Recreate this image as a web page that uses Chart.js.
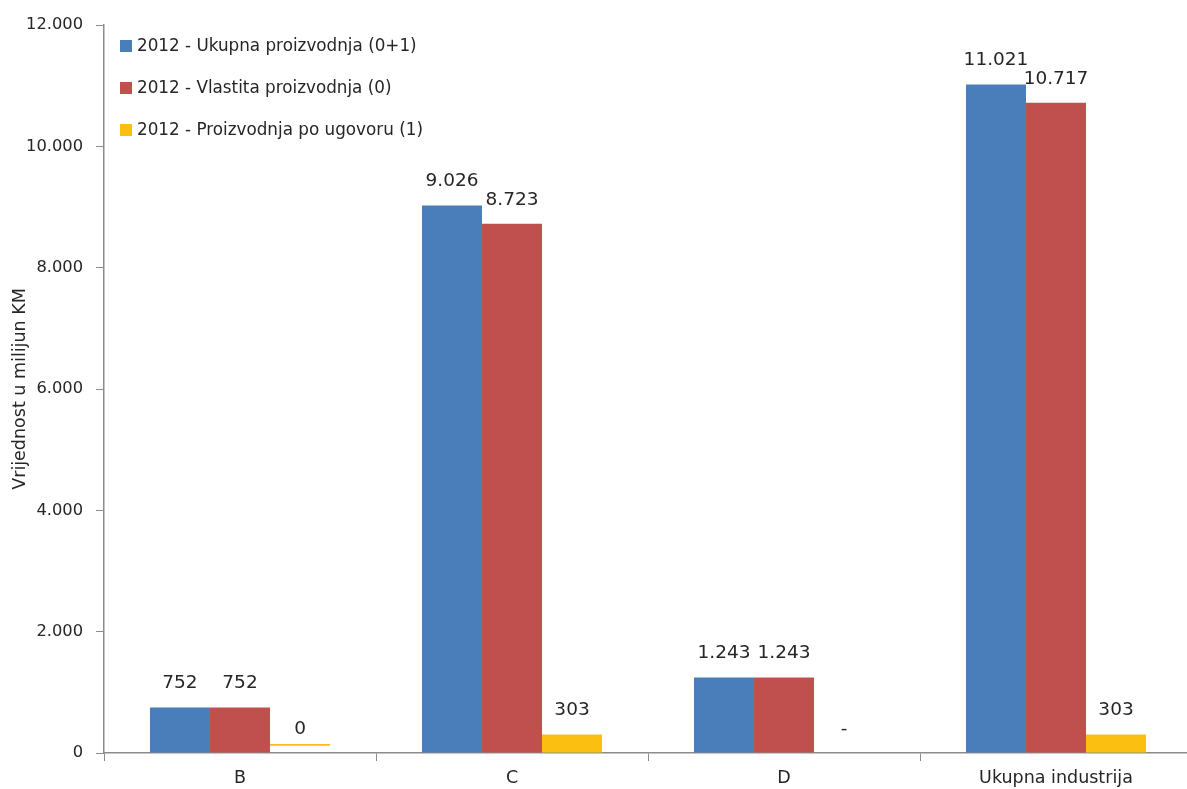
<!DOCTYPE html>
<html>
<head>
<meta charset="utf-8">
<script src="https://cdn.jsdelivr.net/npm/chart.js@4"></script>
<style>
  html, body { margin: 0; padding: 0; background: #fff; overflow: hidden; }
  #wrap { position: relative; width: 1195px; height: 789px; }
  #legend { position: absolute; left: 120px; top: 34px; font-family: "DejaVu Sans", sans-serif; font-size: 16.8px; color: #262626; }
  #legend div { height: 42px; line-height: 22px; white-space: nowrap; }
  #legend span.box { display: inline-block; width: 12px; height: 12px; margin-right: 5px; vertical-align: -1px; }
</style>
</head>
<body>
<div id="wrap">
  <canvas id="c" width="1195" height="789"></canvas>
  <div id="legend"></div>
</div>
<script>
const categories = ['B', 'C', 'D', 'Ukupna industrija'];
const seriesNames = ['2012 - Ukupna proizvodnja (0+1)', '2012 - Vlastita proizvodnja (0)', '2012 - Proizvodnja po ugovoru (1)'];
const ukupna = [752, 9026, 1243, 11021];
const vlastita = [752, 8723, 1243, 10717];
const ugovor = [0, 303, null, 303];
// Excel crta nulu kao tanku liniju iznad osi
const ugovorNulaCrta = [120, 150];
const yTicks = [0, 2000, 4000, 6000, 8000, 10000, 12000];
const colors = ['#4a7ebb', '#c0504d', '#fbbf11'];

function fmt(v) {
  return String(v).replace(/\B(?=(\d{3})+(?!\d))/g, '.');
}

const labelValues = [ukupna, vlastita, ugovor];

const valueLabels = {
  id: 'valueLabels',
  afterDatasetsDraw(chart) {
    const ctx = chart.ctx;
    const y = chart.scales.y;
    ctx.save();
    ctx.font = '18.5px "DejaVu Sans"';
    ctx.fillStyle = '#262626';
    ctx.textAlign = 'center';
    ctx.textBaseline = 'middle';
    chart.data.datasets.forEach((ds, di) => {
      const meta = chart.getDatasetMeta(di);
      meta.data.forEach((bar, i) => {
        const v = labelValues[di][i];
        const txt = v == null ? '-' : fmt(v);
        ctx.fillText(txt, bar.x, y.getPixelForValue(v || 0) - 24);
      });
    });
    ctx.restore();
  }
};

const chart = new Chart(document.getElementById('c'), {
  type: 'bar',
  data: {
    labels: categories,
    datasets: [
      { label: seriesNames[0], data: ukupna, backgroundColor: colors[0] },
      { label: seriesNames[1], data: vlastita, backgroundColor: colors[1] },
      { label: seriesNames[2], data: ugovor.map((v, i) => (v === 0 ? ugovorNulaCrta : v)), backgroundColor: colors[2] }
    ]
  },
  options: {
    responsive: false,
    animation: false,
    layout: { padding: { top: 25, right: 3, left: 0, bottom: 0 } },
    datasets: { bar: { barPercentage: 1, categoryPercentage: 0.662, borderWidth: 0 } },
    plugins: { legend: { display: false }, tooltip: { enabled: false } },
    scales: {
      x: {
        offset: true,
        grid: { offset: true, drawOnChartArea: false, tickLength: 8, color: '#8c8c8c' },
        border: { color: '#8c8c8c', width: 1.5 },
        ticks: { color: '#262626', font: { family: 'DejaVu Sans', size: 17.5 }, padding: 7 },
        afterFit(s) { s.height = 36; }
      },
      y: {
        min: 0,
        max: 12000,
        afterBuildTicks(s) { s.ticks = yTicks.map(v => ({ value: v })); },
        grid: { drawOnChartArea: false, tickLength: 8, color: '#8c8c8c' },
        border: { color: '#8c8c8c', width: 1.5 },
        ticks: { color: '#262626', font: { family: 'DejaVu Sans', size: 16.3 }, padding: 13, callback: v => fmt(v) },
        title: { display: true, text: 'Vrijednost u milijun KM', color: '#262626', font: { family: 'DejaVu Sans', size: 17.5 }, padding: { top: 10, bottom: 0 } },
        afterFit(s) { s.width = 104; }
      }
    }
  },
  plugins: [valueLabels]
});

document.getElementById('legend').innerHTML = chart.data.datasets
  .map(ds => `<div><span class="box" style="background:${ds.backgroundColor}"></span>${ds.label}</div>`)
  .join('');
</script>
</body>
</html>
